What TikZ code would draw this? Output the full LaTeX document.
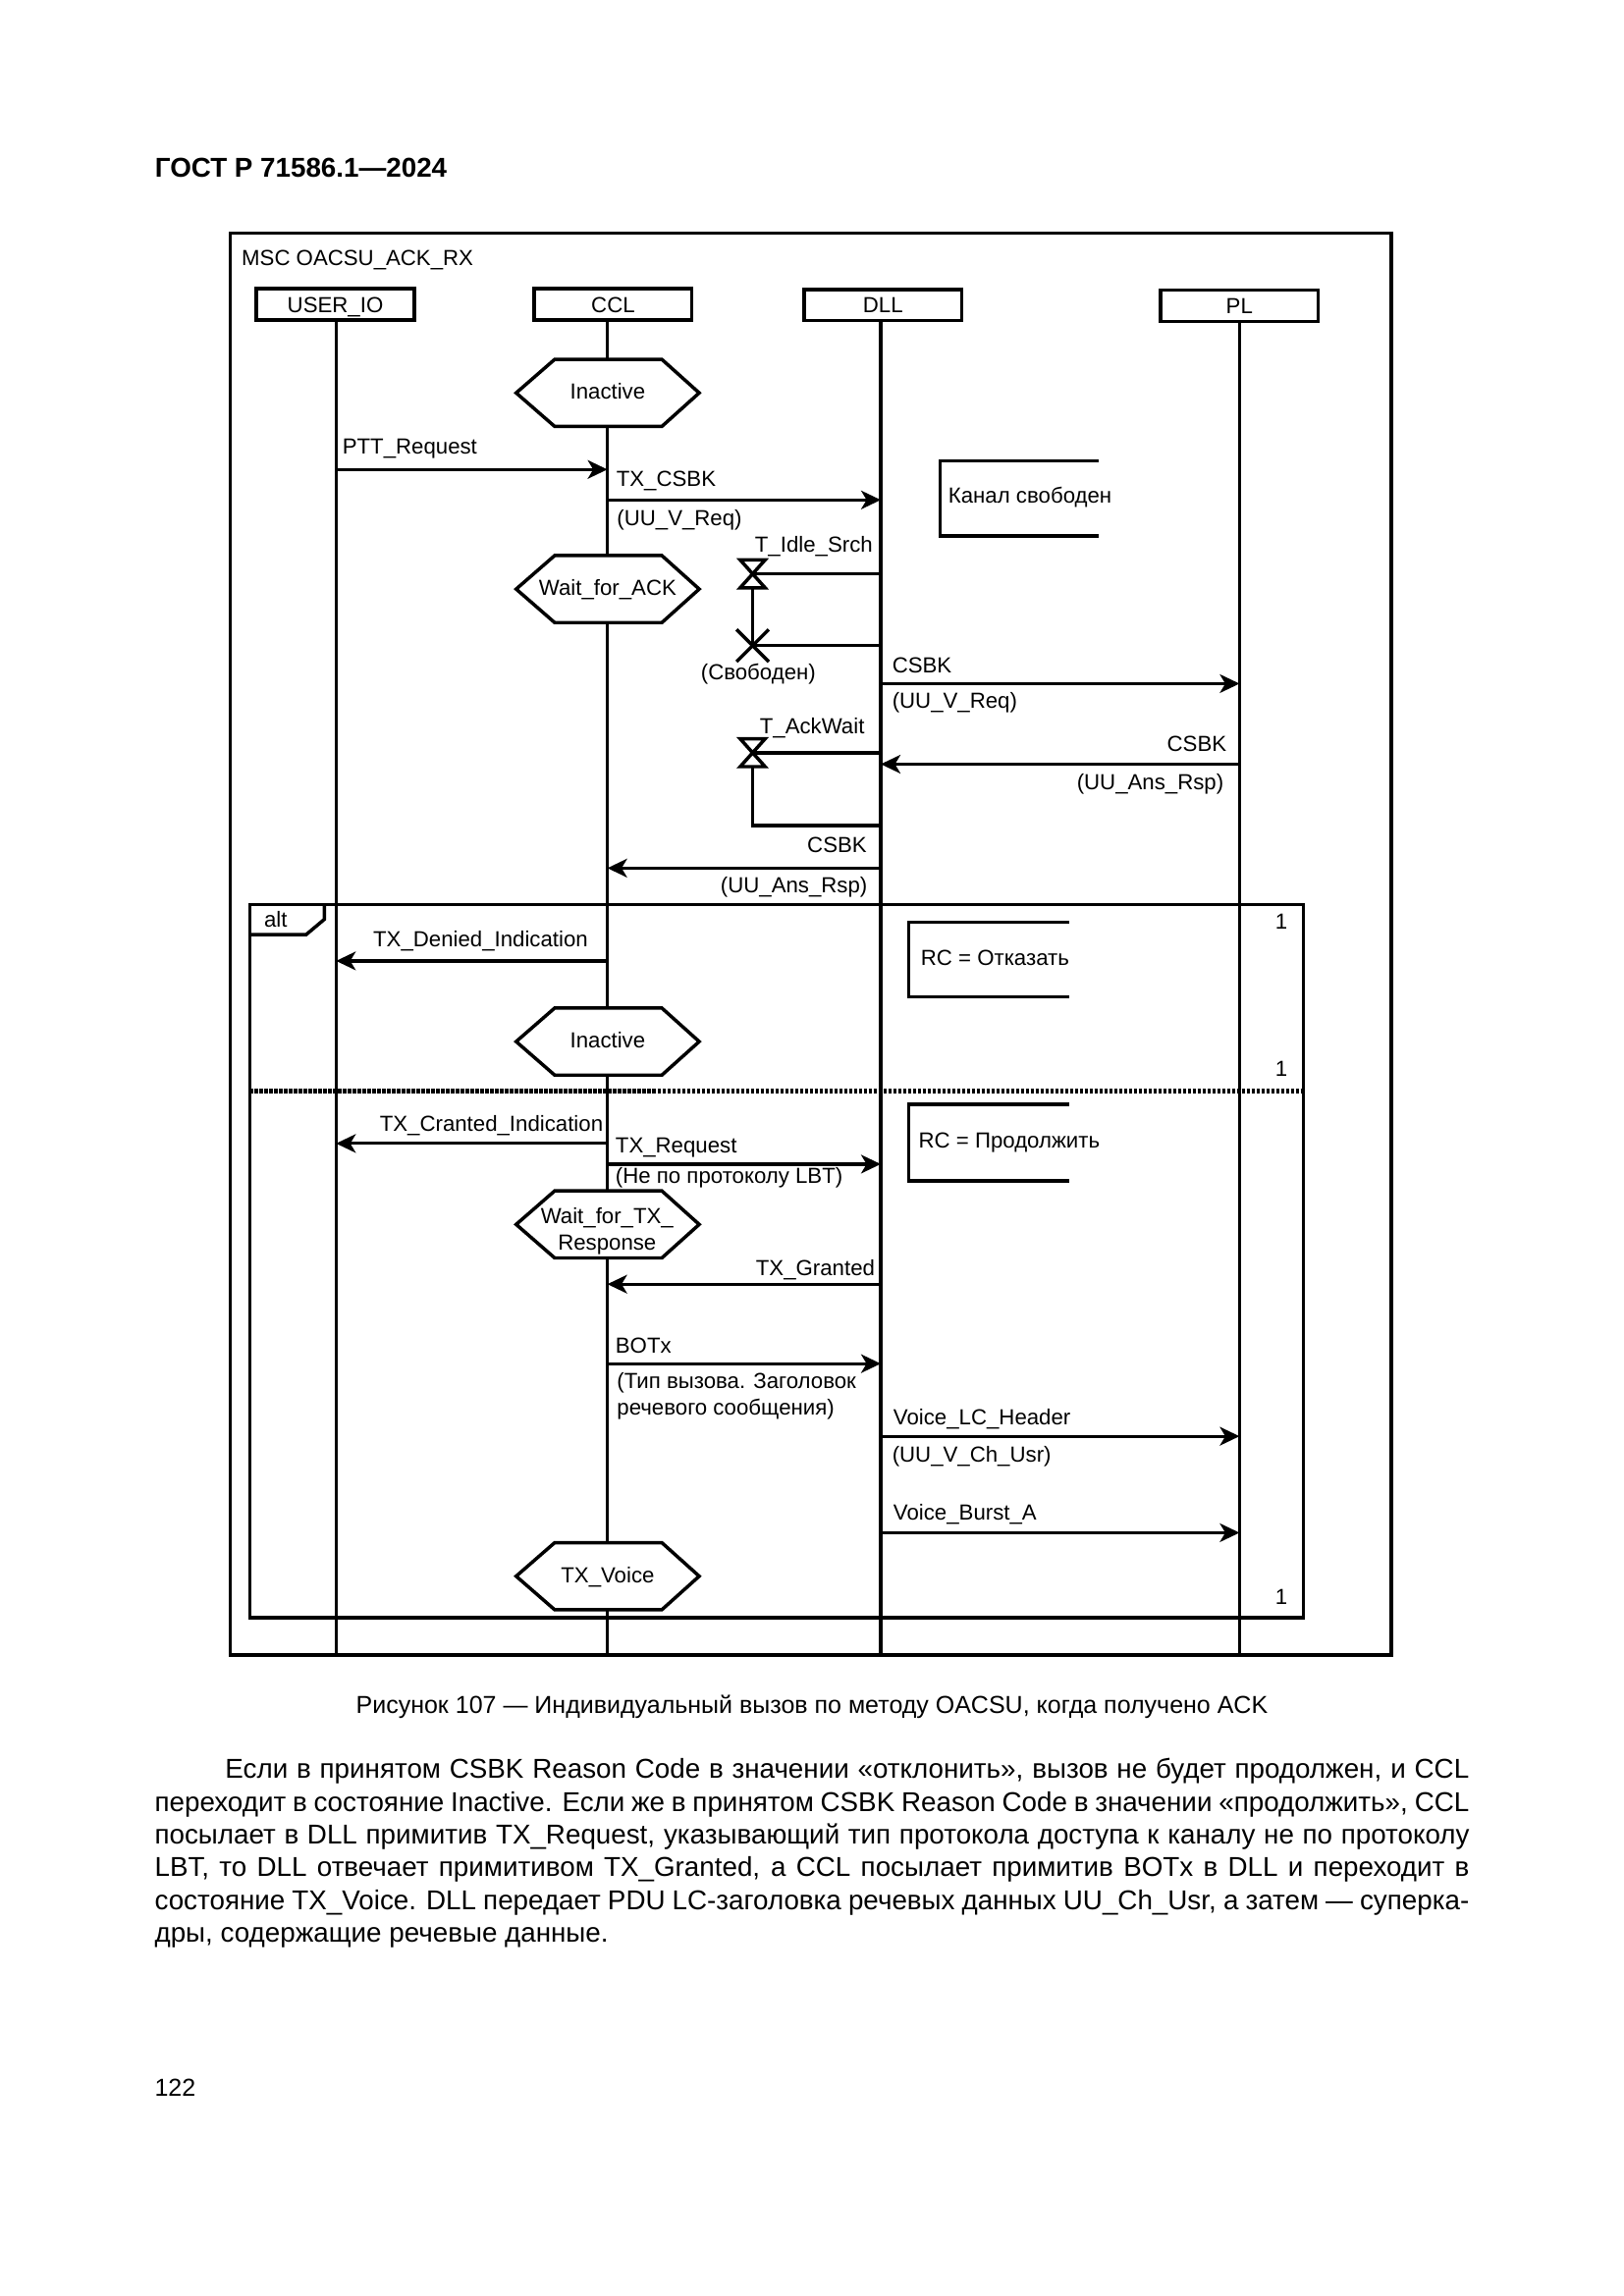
\documentclass[tikz,border=0pt]{standalone}
\usepackage{fontspec}
\setmainfont{Liberation Sans}
\usetikzlibrary{arrows.meta,calc}
\newcommand\mscstate[2]{%
  \coordinate (#1) at (415,#2);
  \draw[statebox] ($(#1)+(-62.5,0)$) -- ++(26.3,-22.9) -- ++(73.2,0) -- ++(25.5,22.9) -- ++(-25.5,22.9) -- ++(-73.2,0) -- cycle;}
\newcommand\msctimer[1]{%
  \draw[ln] ($(#1)+(-8.5,-9.5)$) -- ++(17,0) -- ++(-17,19) -- ++(17,0) -- cycle;}
\begin{document}
\begin{tikzpicture}[x=0.53679pt,y=-0.53679pt,
  lbl/.style={inner sep=0pt,font=\fontsize{8}{9.6}\selectfont},
  lw/.style={lbl,anchor=base west},
  le/.style={lbl,anchor=base east},
  lc/.style={lbl,anchor=base},
  ln/.style={line width=1.25pt,line join=miter},
  msg/.style={line width=1.15pt,-{Stealth[length=7.2pt,width=6.8pt,inset=2pt]}},
  instbox/.style={draw,line width=1.25pt,minimum width=57.8pt,minimum height=11.5pt,inner sep=0pt,text height=5.8pt,text depth=0pt,anchor=north west,font=\fontsize{8}{9.6}\selectfont},
  statebox/.style={draw,fill=white,line width=1.25pt,line join=miter},
  dotsep/.style={line width=1.6pt,dash pattern=on 1.2pt off 0.6pt},
  txt/.style={inner sep=0pt,anchor=base west,font=\fontsize{10}{12}\selectfont},
]
\useasboundingbox (0,0) rectangle (1109,1568.4);
\fill[white] (0,0) rectangle (1109,1568.4);

% header
\node[anchor=base west,inner sep=0pt,font=\bfseries\fontsize{10}{12}\selectfont] (hdr) at (105.5,121.2) {ГОСТ Р 71586.1—2024};

% outer frame
\draw[ln] (157.2,159.1) rectangle (950,1130.4);
\node[lw] (msc) at (164.7,181.5) {MSC OACSU\_ACK\_RX};

% instances
\node[instbox] (iUI) at (174,196) {USER\_IO};
\node[instbox] (iCC) at (363.7,196) {CCL};
\node[instbox] (iDL) at (548,196.5) {DLL};
\node[instbox] (iPL) at (791.4,197) {PL};

\coordinate (UI) at (229.5,217.5);
\coordinate (CC) at (414.8,217.5);
\coordinate (DL) at (601.5,218);
\coordinate (PL) at (846.5,218.5);
\coordinate (bot) at (0,1130.4);

% alt frame
\draw[ln] (170.6,618) rectangle (890,1105.1);
\draw[ln] (170.6,638.5) -- (209,638.5) -- (221.5,628) -- (221.5,618);
\node[lw] (alt) at (180,633.6) {alt};
\draw[dotsep] (170.6,745.3) -- (890,745.3);
\node[lw] (n1) at (870.5,634.7) {1};
\node[lw] (n2) at (870.5,735.3) {1};
\node[lw] (n3) at (870.5,1096.2) {1};

% lifelines
\draw[ln] (UI) -- (UI |- bot);
\draw[ln] (CC) -- (CC |- bot);
\draw[ln] (DL) -- (DL |- bot);
\draw[ln] (PL) -- (PL |- bot);

% states
\mscstate{s1}{268.4}
\node[lc] (s1t) at ($(s1)+(0,4.4)$) {Inactive};
\mscstate{s2}{402.4}
\node[lc] (s2t) at ($(s2)+(0,4.5)$) {Wait\_for\_ACK};
\mscstate{s3}{711.5}
\node[lc] (s3t) at ($(s3)+(0,4.4)$) {Inactive};
\mscstate{s4}{836.4}
\node[lc] (s4a) at (414.6,835.9) {Wait\_for\_TX\_};
\node[lc] (s4b) at (414.6,853.7) {Response};
\mscstate{s5}{1076.7}
\node[lc] (s5t) at ($(s5)+(0,4.4)$) {TX\_Voice};

% conditions
\draw[ln] (750.3,314.7) -- (641.9,314.7) -- (641.9,366.1) -- (750.3,366.1);
\node[lw] (c1) at (647.3,343.7) {Канал свободен};
\draw[ln] (730,629.8) -- (620.7,629.8) -- (620.7,681) -- (730,681);
\node[lw] (c2) at (628.5,659.3) {RC = Отказать};
\draw[ln] (730,754.5) -- (620.7,754.5) -- (620.7,806.6) -- (730,806.6);
\node[lw] (c3) at (627,784.5) {RC = Продолжить};

% timers
\coordinate (t1) at (514,392);
\msctimer{t1}
\draw[ln] (t1) -- (DL |- t1);
\node[le] (t1l) at (596.3,377.2) {T\_Idle\_Srch};
\coordinate (t1x) at (514,441);
\draw[ln] ($(t1)+(0,9.5)$) -- (t1x);
\draw[ln] ($(t1x)+(-11,-11)$) -- ($(t1x)+(11,11)$);
\draw[ln] ($(t1x)+(-11,11)$) -- ($(t1x)+(11,-11)$);
\draw[ln] (t1x) -- (DL |- t1x);
\node[lw] (t1xl) at (478.3,464.4) {(Свободен)};

\coordinate (t2) at (514,514.2);
\msctimer{t2}
\draw[ln] (t2) -- (DL |- t2);
\node[lw] (t2l) at (518.5,501) {T\_AckWait};
\coordinate (t2s) at (514,564);
\draw[ln] ($(t2)+(0,9.5)$) -- (t2s) -- (DL |- t2s);

% messages
\coordinate (m1) at (0,320.7);
\draw[msg] (UI |- m1) -- (CC |- m1);
\node[lw] (m1l) at (233.5,310) {PTT\_Request};

\coordinate (m2) at (0,341.5);
\draw[msg] (CC |- m2) -- (DL |- m2);
\node[lw] (m2l) at (420.6,332.3) {TX\_CSBK};
\node[lw] (m2p) at (421,359.4) {(UU\_V\_Req)};

\coordinate (m3) at (0,467);
\draw[msg] (DL |- m3) -- (PL |- m3);
\node[lw] (m3l) at (609,459.7) {CSBK};
\node[lw] (m3p) at (609,483.9) {(UU\_V\_Req)};

\coordinate (m4) at (0,522);
\draw[msg] (PL |- m4) -- (DL |- m4);
\node[le] (m4l) at (838,513.5) {CSBK};
\node[le] (m4p) at (836,539.5) {(UU\_Ans\_Rsp)};

\coordinate (m5) at (0,593);
\draw[msg] (DL |- m5) -- (CC |- m5);
\node[le] (m5l) at (592.3,582.2) {CSBK};
\node[le] (m5p) at (592.7,609.7) {(UU\_Ans\_Rsp)};

\coordinate (m6) at (0,656.4);
\draw[msg] (CC |- m6) -- (UI |- m6);
\node[lw] (m6l) at (254.5,647) {TX\_Denied\_Indication};

\coordinate (m7) at (0,781.1);
\draw[msg] (CC |- m7) -- (UI |- m7);
\node[lw] (m7l) at (259,773) {TX\_Cranted\_Indication};

\coordinate (m8) at (0,795.2);
\draw[msg] (CC |- m8) -- (DL |- m8);
\node[lw] (m8l) at (420,787.8) {TX\_Request};
\node[lw] (m8p) at (420,808) {(Не по протоколу LBT)};

\coordinate (m9) at (0,877.2);
\draw[msg] (DL |- m9) -- (CC |- m9);
\node[le] (m9l) at (597.8,871.6) {TX\_Granted};

\coordinate (m10) at (0,931.5);
\draw[msg] (CC |- m10) -- (DL |- m10);
\node[lw] (m10l) at (420,924) {BOTx};
\node[lw] (m10p) at (421,948.7) {(Тип вызова. Заголовок};
\node[lw] (m10q) at (421,966.6) {речевого сообщения)};

\coordinate (m11) at (0,981.1);
\draw[msg] (DL |- m11) -- (PL |- m11);
\node[lw] (m11l) at (609.8,973.3) {Voice\_LC\_Header};
\node[lw] (m11p) at (609,999) {(UU\_V\_Ch\_Usr)};

\coordinate (m12) at (0,1047);
\draw[msg] (DL |- m12) -- (PL |- m12);
\node[lw] (m12l) at (609.8,1038.1) {Voice\_Burst\_A};

% caption
\node[anchor=base,inner sep=0pt,font=\fontsize{9}{11}\selectfont] (cap) at (554.5,1170.5) {Рисунок 107 — Индивидуальный вызов по методу OACSU, когда получено ACK};

% paragraph
\node[txt] (p1) at (153.5,1214.8) {\makebox[456pt][s]{Если в принятом CSBK Reason Code в значении «отклонить», вызов не будет продолжен, и CCL}};
\node[txt] (p2) at (105.3,1237.2) {\makebox[481.9pt][s]{переходит в состояние Inactive. Если же в принятом CSBK Reason Code в значении «продолжить», CCL}};
\node[txt] (p3) at (105.3,1259.6) {\makebox[481.9pt][s]{посылает в DLL примитив TX\_Request, указывающий тип протокола доступа к каналу не по протоколу}};
\node[txt] (p4) at (105.3,1282.0) {\makebox[481.9pt][s]{LBT, то DLL отвечает примитивом TX\_Granted, а CCL посылает примитив BOTx в DLL и переходит в}};
\node[txt] (p5) at (105.3,1304.4) {\makebox[481.9pt][s]{состояние TX\_Voice. DLL передает PDU LC-заголовка речевых данных UU\_Ch\_Usr, а затем — суперка-}};
\node[txt] (p6) at (105.3,1326.8) {дры, содержащие речевые данные.};

% page number
\node[txt,font=\fontsize{9}{11}\selectfont] (pg) at (105.3,1432) {122};
\end{tikzpicture}
\end{document}
